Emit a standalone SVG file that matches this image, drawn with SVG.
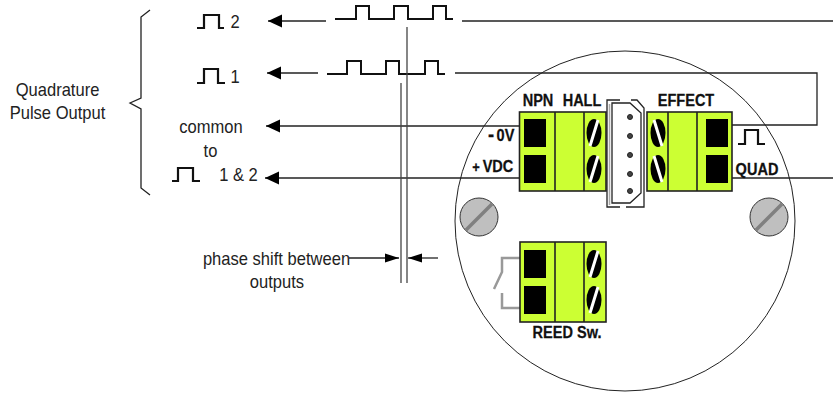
<svg xmlns="http://www.w3.org/2000/svg" width="833" height="394" viewBox="0 0 833 394">
<style>
text{font-family:"Liberation Sans",Arial,sans-serif;fill:#222;text-anchor:middle}
.r{font-size:18px}
.b{font-size:15.8px;font-weight:bold;fill:#111;stroke:#111;stroke-width:.25}
.w{fill:none;stroke:#111;stroke-width:2}
.p{fill:none;stroke:#111;stroke-width:2.2}
.l{fill:none;stroke:#222;stroke-width:1.3}
.v{fill:none;stroke:#444;stroke-width:1.3}
.box{fill:#ccff33;stroke:#222;stroke-width:1.6}
.sq{fill:#000}
.sc{fill:#000}
.st{stroke:#fff;stroke-width:3;fill:none}
.gs{fill:#bfbfbf;stroke:#333;stroke-width:1}
.gl{stroke:#808080;stroke-width:3.5;fill:none}
.sw{fill:none;stroke:#999;stroke-width:2.5}
.c{fill:none;stroke:#222;stroke-width:1.3}
.dot{fill:#444;stroke:#222;stroke-width:1}
</style>
<defs>
<marker id="a" markerUnits="userSpaceOnUse" markerWidth="15" markerHeight="14" refX="14" refY="7" orient="auto-start-reverse"><polygon points="0,0.500 14,7 0,13.500" fill="#000"/></marker>
<marker id="s" markerUnits="userSpaceOnUse" markerWidth="15" markerHeight="10" refX="14" refY="5" orient="auto-start-reverse"><polygon points="0,0.500 14,5 0,9.500" fill="#000"/></marker>
</defs>
<g id="housing"><circle cx="625" cy="221" r="170" fill="#fff" stroke="#222" stroke-width="1"/></g>
<g id="connectors">
<path class="l" d="M268,21H326" marker-start="url(#a)"/>
<path class="l" d="M462,21H833"/>
<path class="l" d="M267,73H318" marker-start="url(#a)"/>
<path class="l" d="M455,73H817V125H732"/>
<path class="l" d="M266,126H519" marker-start="url(#a)"/>
<path class="l" d="M265,178H519" marker-start="url(#a)"/>
<path class="l" d="M732,178H833"/>
<path class="w" d="M335,19H356V6H369V19H394V6H408V19H433V6H446V19H453"/>
<path class="w" d="M327,74H347V61H361V74H386V61H399V74H425V61H438V74H445"/>
<path class="v" d="M407,27V283"/>
<path class="v" d="M401,83V283"/>
<path class="l" d="M349,258H399" marker-end="url(#s)"/>
<path class="l" d="M438,258H408" marker-end="url(#s)"/>
<path class="l" d="M150,10L141,17V98L130,103L141,109V188L150,195"/>
</g>
<g id="pulse-2"><path class="p" d="M197,28H204V15H219V28H224"/><text class="r" transform="matrix(.92 0 0 1 235 28)">2</text></g>
<g id="pulse-1"><path class="p" d="M197,83H204V69H218V83H225"/><text class="r" transform="matrix(.92 0 0 1 235 83)">1</text></g>
<g id="pulse-common"><path class="p" d="M172,181H178V168H193V181H200"/><text class="r" transform="matrix(.92 0 0 1 238.500 181)">1 &amp; 2</text></g>
<g id="labels">
<text class="r" transform="matrix(.92 0 0 1 57.500 96)">Quadrature</text>
<text class="r" transform="matrix(.92 0 0 1 57.500 119)">Pulse Output</text>
<text class="r" transform="matrix(.92 0 0 1 211 133)">common</text>
<text class="r" transform="matrix(.92 0 0 1 210.500 157)">to</text>
<text class="r" transform="matrix(.92 0 0 1 276.500 265)">phase shift between</text>
<text class="r" transform="matrix(.92 0 0 1 277 288)">outputs</text>
</g>
<g id="terminal-hall">
<rect class="box" x="519.500" y="112" width="86.500" height="79"/>
<path class="box" d="M555,112V191M584,112V191"/>
<rect class="sq" x="524" y="119" width="22" height="28"/><rect class="sq" x="524" y="155" width="22" height="28"/>
<ellipse class="sc" cx="594" cy="133" rx="7.500" ry="14"/><ellipse class="sc" cx="594" cy="169" rx="7.500" ry="14"/>
<path class="st" d="M590,146L598,120M590,182L598,156"/>
<text class="b" transform="matrix(.92 0 0 1 538 106)">NPN</text>
<text class="b" transform="matrix(.92 0 0 1 582 106)">HALL</text>
<text class="b" transform="matrix(.92 0 0 1 505.500 141)">0V</text>
<text class="b" transform="matrix(.92 0 0 1 491 141)" style="font-size:20px">-</text>
<text class="b" transform="matrix(.92 0 0 1 498 172)">VDC</text>
<text class="b" transform="matrix(.92 0 0 1 476 172)" style="font-size:14px">+</text>
</g>
<g id="connector-plug">
<path class="c" d="M620,100H607V207H620M631,100H637L644,108V207H626"/>
<path class="c" d="M612,103H630L641,113V193L630,203H612Z"/>
<path d="M609.500,104V205" stroke="#aaa" stroke-width="1.500" fill="none"/>
<circle class="dot" cx="630" cy="117" r="2.500"/><circle class="dot" cx="630" cy="136" r="2.500"/><circle class="dot" cx="630" cy="155" r="2.500"/><circle class="dot" cx="630" cy="174" r="2.500"/><circle class="dot" cx="630" cy="191" r="2.500"/>
</g>
<g id="terminal-effect">
<rect class="box" x="647" y="112" width="85" height="79"/>
<path class="box" d="M668,112V191M697,112V191"/>
<rect class="sq" x="706" y="119" width="22" height="28"/><rect class="sq" x="706" y="155" width="22" height="28"/>
<ellipse class="sc" cx="658" cy="133" rx="7.500" ry="14"/><ellipse class="sc" cx="658" cy="169" rx="7.500" ry="14"/>
<path class="st" d="M654,120L662,146M654,156L662,182"/>
<text class="b" transform="matrix(.92 0 0 1 686 106)">EFFECT</text>
<text class="b" transform="matrix(.92 0 0 1 757 175)">QUAD</text>
<path class="p" d="M738,144H745V130H758V144H765"/>
</g>
<g id="screw-left"><circle class="gs" cx="479" cy="217" r="19"/><path class="gl" d="M466,230L492,204"/></g>
<g id="screw-right"><circle class="gs" cx="769" cy="217" r="19"/><path class="gl" d="M756,230L782,204"/></g>
<g id="terminal-reed">
<path class="sw" d="M520,258H502V272L494,289M502,293V308H520"/>
<rect class="box" x="520" y="242" width="86" height="80"/>
<path class="box" d="M555,242V322M584,242V322"/>
<rect class="sq" x="524" y="250" width="22" height="28"/><rect class="sq" x="524" y="286" width="22" height="28"/>
<ellipse class="sc" cx="594" cy="264" rx="7.500" ry="14"/><ellipse class="sc" cx="594" cy="300" rx="7.500" ry="14"/>
<path class="st" d="M590,277L598,251M590,313L598,287"/>
<text class="b" transform="matrix(.92 0 0 1 567 338)">REED Sw.</text>
</g>
</svg>
